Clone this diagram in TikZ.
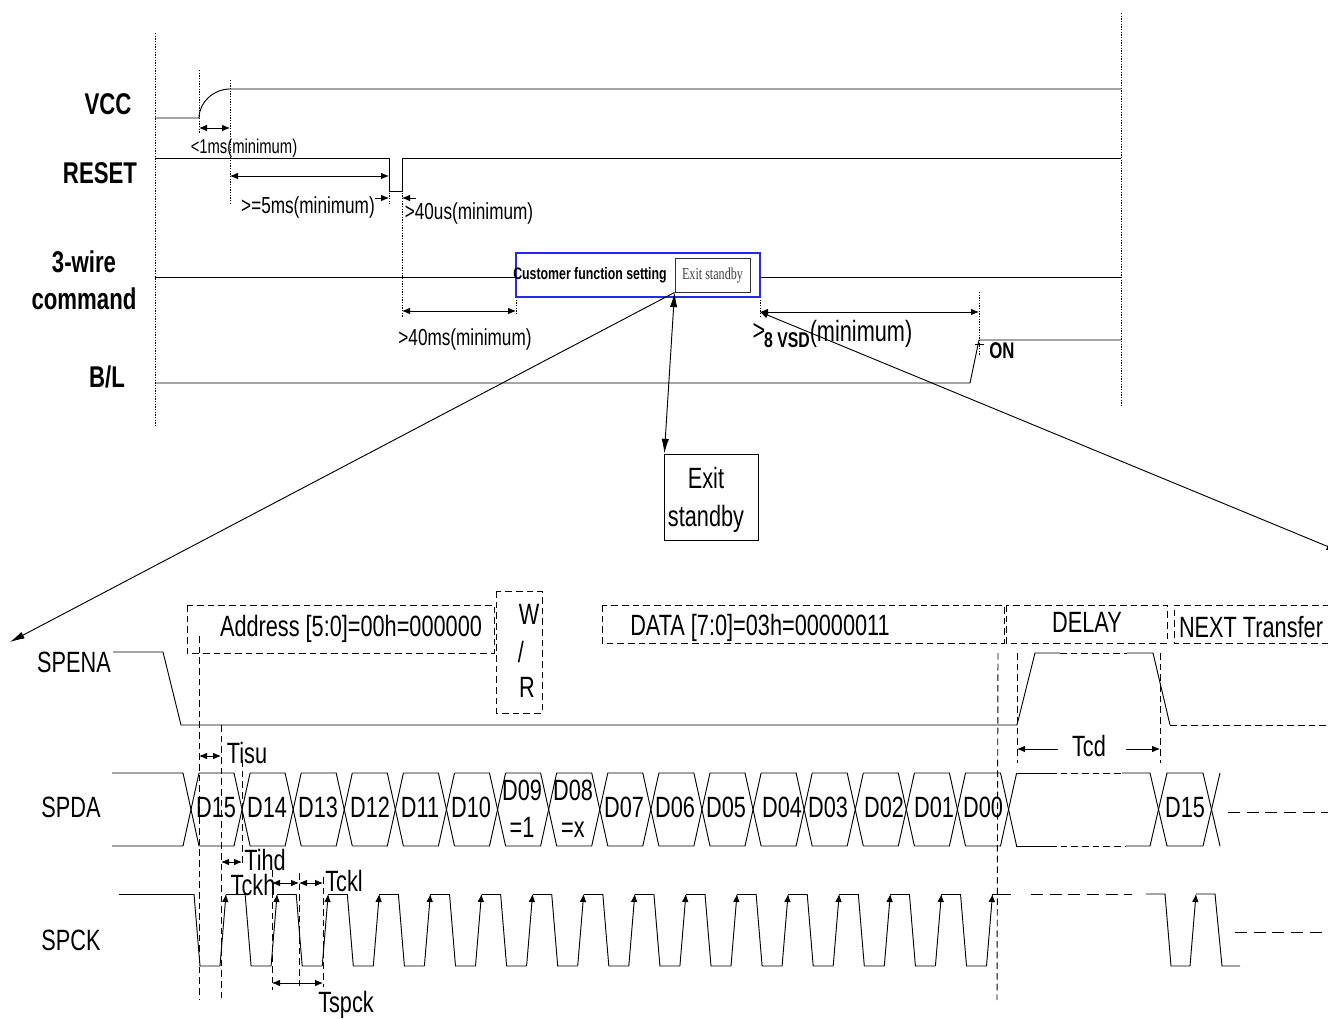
\documentclass[tikz,border=0pt]{standalone}
\usepackage{fontspec}
\setmainfont[FakeStretch=0.74]{Liberation Sans}
\newfontfamily\serifnarrow[FakeStretch=0.72]{Liberation Serif}
\usetikzlibrary{arrows.meta,%
		positioning}
\definecolor{boxblue}{RGB}{40,40,235}

\begin{document}
\begin{tikzpicture}[x=0.75pt,y=-0.75pt,line width=0.7pt,
    >={Latex[length=6pt,width=5pt]},
    bigtip/.style={-{Latex[length=11pt,width=5.5pt]}},
    dots/.style={line width=0.6pt,dash pattern=on 1pt off 1pt},
    dashes/.style={dash pattern=on 5pt off 3pt},
    longdashes/.style={dash pattern=on 9pt off 5pt},
    lbl/.style={inner sep=0pt,font=\fontsize{22}{26}\selectfont,text height=15.8pt,text depth=0pt},
    midlbl/.style={inner sep=0pt,font=\fontsize{17.4}{20}\selectfont,text height=12.5pt,text depth=0pt},
    smalllbl/.style={inner sep=0pt,font=\fontsize{15}{18}\selectfont,text height=10.7pt,text depth=0pt},
    sig/.style={inner sep=0pt,font=\fontsize{22.5}{26}\selectfont\bfseries,text height=16pt,text depth=0pt}]

  \useasboundingbox (0,0) rectangle (1328,1019);

  \node[sig] (vcc) at (108,104) {VCC};
  \node[sig] (reset) at (100,173) {RESET};
  \node[sig] (wire) at (84,262) {3-wire};
  \node[sig] (command) at (84,299) {command};
  \node[sig] (bl) at (107,377) {B/L};

  \draw[dots] (155,33) -- (155,426);
  \draw[dots] (199,70) -- (199,133);
  \draw[dots] (230,80) -- (230,205);
  \draw[dots] (389,158) -- (389,204);
  \draw[dots] (402,158) -- (402,317);
  \draw[dots] (516,297) -- (516,315);
  \draw[dots] (760,297) -- (760,317);
  \draw[dots] (979,292) -- (979,355);
  \draw[dots] (1121,13) -- (1121,407);

  \draw (155,118) -- (199,118) .. controls (199,102) and (214,89) .. (230,89) -- (1121,89);
  \draw (155,158) -- (389,158) -- (389,191) -- (402,191) -- (402,158) -- (1121,158);
  \draw (155,277) -- (516,277);
  \draw (760,277) -- (1121,277);
  \draw (155,383) -- (970,383) -- (979,340) -- (1121,340);
  \draw (975,344) -- (984,344);

  \node[draw=boxblue,line width=1pt,minimum width=183pt,minimum height=33pt,inner sep=0pt] (setting) at (638,275) {};
  \node[inner sep=0pt,font=\fontsize{12.5}{15}\selectfont\bfseries] (custom) at (590,275) {Customer function setting};
  \node[draw=black!80,minimum width=56.25pt,minimum height=25.5pt,inner sep=0pt,text=black!75,
    font=\fontsize{12.6}{15}\selectfont\serifnarrow] (exitsmall) at (712.5,275) {Exit standby\hspace{3pt}};
  \node[draw,minimum width=70pt,minimum height=64.5pt,inner sep=0pt] (exitbig) at (711.5,497) {};
  \node[lbl] (exit) at (706,478) {Exit};
  \node[lbl] (standby) at (706,516) {standby};

  \draw[<->] (199,128) -- (230,128);
  \draw[<->] (230,176) -- (389,176);
  \draw[->] (375,198) -- (389,198);
  \draw[->] (416,198) -- (402,198);
  \draw[<->] (402,311) -- (516,311);
  \draw[<->] (760,312) -- (979,312);
  \node[smalllbl] (lt1ms) at (244,146) {<1ms(minimum)};
  \node[midlbl] (ge5ms) at (308,205) {>=5ms(minimum)};
  \node[midlbl] (gt40us) at (469,211) {>40us(minimum)};
  \node[midlbl] (gt40ms) at (465,337) {>40ms(minimum)};
  \node[inner sep=0pt,font=\fontsize{22}{26}\selectfont] (gt) at (759,332) {>};
  \node[inner sep=0pt,font=\fontsize{16}{18}\selectfont\bfseries] (vsd) at (787,340) {8 VSD};
  \node[inner sep=0pt,font=\fontsize{22}{26}\selectfont] (minimum) at (861,334) {(minimum)};
  \node[inner sep=0pt,font=\fontsize{17}{20}\selectfont\bfseries] (on) at (1002,351) {ON};

  \coordinate (zoomleft) at (10,642);
  \coordinate (zoomright) at (760,312);
  \coordinate (zoomend) at (1341,552);
  \draw[bigtip] (exitsmall.south west) -- (zoomleft);
  \draw[{Latex[length=6pt,width=5pt]}-{Latex[length=11pt,width=5.5pt]}] (zoomright) -- (zoomend);
  \draw[{Latex[length=11pt,width=5.5pt]}-{Latex[length=11pt,width=5.5pt]}] (exitsmall.south west) -- (exitbig.north west);

  \node[lbl] (spena) at (74,662) {SPENA};
  \node[lbl] (spda) at (71,807) {SPDA};
  \node[lbl] (spck) at (71,940) {SPCK};

  \draw[dashes] (187,605) rectangle (494,653);
  \draw[dashes] (496,591) rectangle (542,713);
  \draw[dashes] (602,605) rectangle (1004,643);
  \draw[dashes] (1006,605) rectangle (1167,643);
  \draw[dashes] (1340,605) -- (1174,605) -- (1174,643) -- (1340,643);
  \node[lbl] (address) at (351,626) {Address [5:0]=00h=000000};
  \node[lbl] (w) at (529,614) {W};
  \node[lbl] (slash) at (521,652) {/};
  \node[lbl] (r) at (527,687) {R};
  \node[lbl] (data) at (760,625) {DATA [7:0]=03h=00000011};
  \node[lbl] (delay) at (1087,622) {DELAY};
  \node[lbl] (next) at (1251,627) {NEXT Transfer};

  \draw (113,652) -- (163,652) -- (181,725) -- (1017,725) -- (1035,653) -- (1060,653);
  \draw[dashes] (1060,653) -- (1127,653);
  \draw (1127,653) -- (1153,653) -- (1170,725);
  \draw[dashes] (1170,725) -- (1328,725);

  \draw (112,773) -- (183,773) -- (199,846);
  \draw (112,846) -- (183,846) -- (199,773);
  \foreach \i in {0,...,15} {
    \pgfmathsetmacro{\a}{199+51.1*\i}
    \draw (\a,773) -- ({\a+35},773) -- ({\a+51.1},846);
    \draw (\a,846) -- ({\a+35},846) -- ({\a+51.1},773);
  }
  \foreach \x/\t in {216/D15,267/D14,318/D13,370/D12,420/D11,471/D10,624/D07,675/D06,726/D05,782/D04,828/D03,884/D02,934/D01,983/D00,1185/D15} {
    \node[lbl] (cell\x) at (\x,807) {\t};
  }
  \node[lbl] (dnine) at (522,790) {D09};
  \node[lbl] (dnineval) at (522,827) {=1};
  \node[lbl] (deight) at (573,790) {D08};
  \node[lbl] (deightval) at (573,827) {=x};
  \draw (1016,773) -- (1050,773);
  \draw[dashes] (1050,773) -- (1122,773);
  \draw (1122,773) -- (1150,773) -- (1167,846) -- (1203,846) -- (1220,773);
  \draw (1016,846) -- (1050,846);
  \draw[dashes] (1050,846) -- (1126,846);
  \draw (1126,846) -- (1150,846) -- (1167,773) -- (1203,773) -- (1220,846);
  \draw[longdashes] (1228,812) -- (1328,812);

  \draw (119,894) -- (194,894);
  \foreach \i in {0,...,15} {
    \pgfmathsetmacro{\b}{200+51.1*\i}
    \draw ({\b-6},894) -- (\b,966) -- ({\b+20},966);
    \draw[->] ({\b+20},966) -- ({\b+26},894);
  }
  \foreach \i in {0,...,14} {
    \pgfmathsetmacro{\b}{200+51.1*\i}
    \draw ({\b+26},894) -- ({\b+45.1},894);
  }
  \draw (992,894) -- (1011,894);
  \draw[longdashes] (1031,894) -- (1132,894);
  \draw (1146,894) -- (1165,894) -- (1171,966) -- (1190,966);
  \draw[->] (1190,966) -- (1196,894);
  \draw (1196,894) -- (1215,894) -- (1222,966) -- (1240,966);
  \draw[longdashes] (1235,932) -- (1328,932);

  \draw[dashes] (199,636) -- (199,1000);
  \draw[dashes] (221,725) -- (221,1000);
  \draw[dashes] (242,760) -- (242,866);
  \draw[dashes] (272,870) -- (272,990);
  \draw[dashes] (299,873) -- (299,990);
  \draw[dashes] (323,877) -- (323,987);
  \draw[dashes] (998,653) -- (997,1000);
  \draw[dashes] (1017,653) -- (1017,763);
  \draw[dashes] (1160,653) -- (1160,763);

  \draw[<->] (199,756) -- (221,756);
  \draw[<->] (221,862) -- (242,862);
  \draw[<->] (272,883) -- (299,883);
  \draw[<->] (299,883) -- (323,883);
  \draw[<->] (272,983) -- (323,983);
  \draw[->] (1058,749) -- (1017,749);
  \draw[->] (1126,749) -- (1160,749);
  \node[lbl] (tisu) at (247,753) {Tisu};
  \node[lbl] (tihd) at (265,860) {Tihd};
  \node[lbl] (tckh) at (253,885) {Tckh};
  \node[lbl] (tckl) at (344,881) {Tckl};
  \node[lbl] (tspck) at (346,1002) {Tspck};
  \node[lbl] (tcd) at (1089,746) {Tcd};

\end{tikzpicture}
\end{document}
